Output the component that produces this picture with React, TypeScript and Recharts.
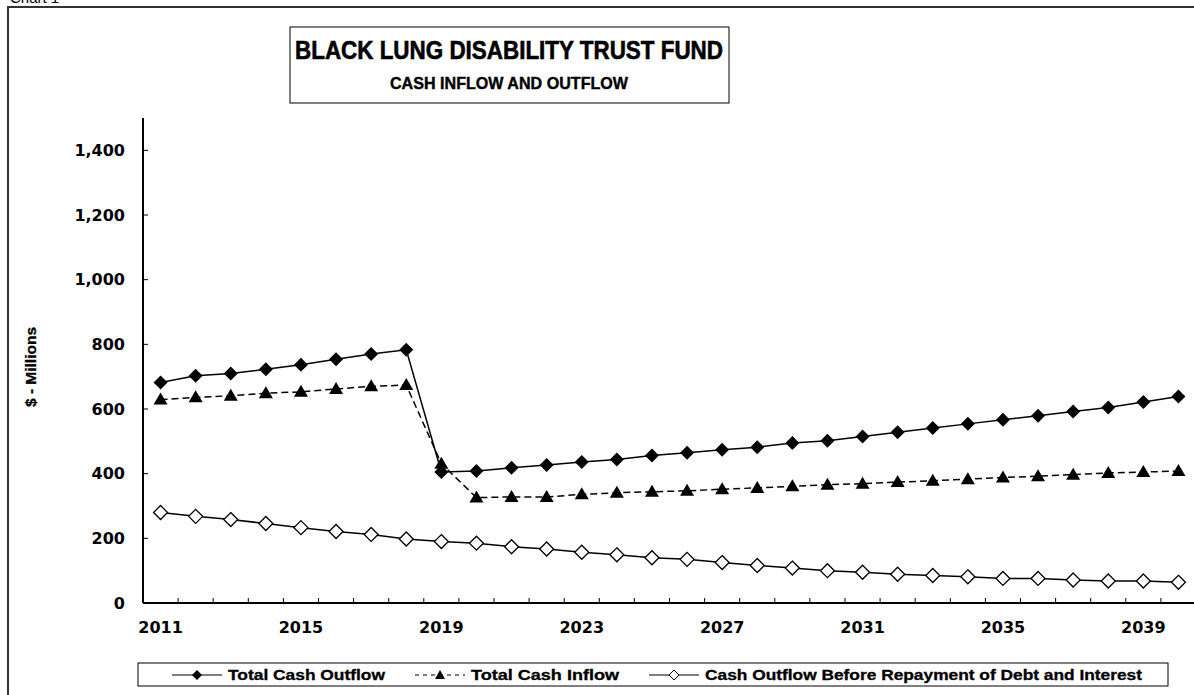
import React from "react";
import { LineChart, Line, XAxis, YAxis } from "recharts";

const years = [
  2011, 2012, 2013, 2014, 2015, 2016, 2017, 2018, 2019, 2020,
  2021, 2022, 2023, 2024, 2025, 2026, 2027, 2028, 2029, 2030,
  2031, 2032, 2033, 2034, 2035, 2036, 2037, 2038, 2039, 2040,
];

const totalCashOutflow = [
  682, 703, 710, 723, 737, 754, 770, 783, 405, 408,
  418, 427, 436, 444, 456, 465, 474, 482, 495, 502,
  515, 528, 541, 554, 567, 579, 592, 605, 622, 639,
];

const totalCashInflow = [
  629, 636, 641, 649, 653, 662, 670, 674, 431, 326,
  328, 328, 336, 341, 344, 347, 352, 356, 361, 366,
  369, 374, 378, 383, 388, 392, 397, 402, 405, 408,
];

const outflowBeforeRepayment = [
  280, 268, 258, 246, 233, 221, 212, 198, 190, 185,
  174, 167, 157, 149, 140, 135, 125, 116, 108, 100,
  95, 89, 85, 81, 76, 76, 71, 68, 68, 64,
];

const yearLabels = [2011, 2015, 2019, 2023, 2027, 2031, 2035, 2039];
const yTicks = [0, 200, 400, 600, 800, 1000, 1200, 1400];

const titleLine1 = "BLACK LUNG DISABILITY TRUST FUND";
const titleLine2 = "CASH INFLOW AND OUTFLOW";
const yAxisTitle = "$ - Millions";
const seriesNames = ["Total Cash Outflow", "Total Cash Inflow", "Cash Outflow Before Repayment of Debt and Interest"];

const data = years.map((year, i) => ({
  year,
  outflow: totalCashOutflow[i],
  inflow: totalCashInflow[i],
  before: outflowBeforeRepayment[i],
}));

// label ticks on the years, tick marks between the years
const xTicks = [...yearLabels, ...years.slice(0, -1).map((y) => y + 0.5)].sort((a, b) => a - b);

const tickFont = "'DejaVu Sans', Verdana, sans-serif";
const narrowFont = "'Liberation Sans Narrow', 'Liberation Sans', Arial, sans-serif";

const diamondPath = (cx: number, cy: number, r: number) =>
  `M${cx},${cy - r} L${cx + r},${cy} L${cx},${cy + r} L${cx - r},${cy} Z`;
const trianglePath = (cx: number, cy: number) =>
  `M${cx},${cy - 7} L${cx + 7},${cy + 5} L${cx - 7},${cy + 5} Z`;

const FilledDiamond = (props: any) => {
  const { cx, cy, index } = props;
  if (cx == null || cy == null) return <g key={index} />;
  return <path key={index} d={diamondPath(cx, cy, 7)} fill="#000" />;
};

const HollowDiamond = (props: any) => {
  const { cx, cy, index } = props;
  if (cx == null || cy == null) return <g key={index} />;
  return <path key={index} d={diamondPath(cx, cy, 7)} fill="#fff" stroke="#000" strokeWidth={1.3} />;
};

const Triangle = (props: any) => {
  const { cx, cy, index } = props;
  if (cx == null || cy == null) return <g key={index} />;
  return <path key={index} d={trianglePath(cx, cy)} fill="#000" />;
};

const XTick = (props: any) => {
  const { x, y, payload } = props;
  const v = payload.value as number;
  const axisY = y - 8;
  if (v % 1 !== 0) {
    return <line x1={x} x2={x} y1={axisY} y2={axisY - 5} stroke="#000" strokeWidth={1} />;
  }
  return (
    <text x={x} y={axisY + 30} textAnchor="middle" fontFamily={tickFont} fontWeight="bold" fontSize={16} fill="#000">
      {v}
    </text>
  );
};

const YTick = (props: any) => {
  const { x, y, payload } = props;
  const axisX = x + 18;
  return (
    <g>
      {payload.value !== 0 && <line x1={axisX} x2={axisX + 5} y1={y} y2={y} stroke="#000" strokeWidth={1} />}
      <text x={x} y={y} dy="0.36em" textAnchor="end" fontFamily={tickFont} fontWeight="bold" fontSize={16} fill="#000">
        {payload.value.toLocaleString("en-US")}
      </text>
    </g>
  );
};

function LegendBox() {
  const top = 663;
  const mid = top + 12;
  const items = [
    { x: 172, textX: 228, textW: 157, kind: "outflow" },
    { x: 415, textX: 471, textW: 148, kind: "inflow" },
    { x: 649, textX: 705, textW: 437, kind: "before" },
  ];
  return (
    <g>
      <rect x={138} y={top} width={1030} height={23} fill="#fff" stroke="#000" strokeWidth={1} />
      {items.map((it, i) => (
        <g key={it.kind}>
          <line
            x1={it.x}
            x2={it.x + 50}
            y1={mid}
            y2={mid}
            stroke="#000"
            strokeWidth={1.2}
            strokeDasharray={it.kind === "inflow" ? "4 4" : undefined}
          />
          {it.kind === "outflow" && <path d={diamondPath(it.x + 25, mid, 5)} fill="#000" />}
          {it.kind === "inflow" && <path d={`M${it.x + 25},${mid - 5} L${it.x + 30},${mid + 4} L${it.x + 20},${mid + 4} Z`} fill="#000" />}
          {it.kind === "before" && <path d={diamondPath(it.x + 25, mid, 5)} fill="#fff" stroke="#000" strokeWidth={1} />}
          <text
            x={it.textX}
            y={mid + 5}
            fontFamily={narrowFont}
            fontWeight="bold"
            fontSize={14}
            textLength={it.textW}
            lengthAdjust="spacingAndGlyphs"
            fill="#000"
            stroke="#000"
            strokeWidth={0.3}
          >
            {seriesNames[i]}
          </text>
        </g>
      ))}
    </g>
  );
}

export default function App() {
  return (
    <div
      style={{
        position: "absolute",
        left: 0,
        top: 0,
        width: 1194,
        height: 695,
        overflow: "hidden",
        background: "#fff",
      }}
    >
      <div style={{ position: "absolute", left: 0, top: 0 }}>
        <LineChart
          width={1230}
          height={700}
          data={data}
          margin={{ top: 118, right: 34, bottom: 67, left: 43 }}
        >
          <XAxis
            dataKey="year"
            type="number"
            domain={[2010.5, 2040.5]}
            ticks={xTicks}
            interval={0}
            tickSize={0}
            tickMargin={8}
            tickLine={false}
            axisLine={{ stroke: "#000", strokeWidth: 2 }}
            tick={<XTick />}
            height={30}
          />
          <YAxis
            type="number"
            domain={[0, 1500]}
            ticks={yTicks}
            interval={0}
            tickSize={0}
            tickMargin={18}
            tickLine={false}
            axisLine={{ stroke: "#000", strokeWidth: 2 }}
            tick={<YTick />}
            width={100}
          />
          <Line
            dataKey="before"
            stroke="#000"
            strokeWidth={1.5}
            dot={<HollowDiamond />}
            activeDot={false}
            isAnimationActive={false}
          />
          <Line
            dataKey="inflow"
            stroke="#000"
            strokeWidth={1.5}
            strokeDasharray="7 4"
            dot={<Triangle />}
            activeDot={false}
            isAnimationActive={false}
          />
          <Line
            dataKey="outflow"
            stroke="#000"
            strokeWidth={1.5}
            dot={<FilledDiamond />}
            activeDot={false}
            isAnimationActive={false}
          />
        </LineChart>
      </div>
      <svg
        width={1194}
        height={695}
        style={{ position: "absolute", left: 0, top: 0, pointerEvents: "none" }}
      >
        <text x={10} y={3} fontFamily="'Liberation Sans', Arial, sans-serif" fontSize={15} fill="#000">
          Chart 1
        </text>
        <rect x={8} y={7} width={1200} height={700} fill="none" stroke="#333" strokeWidth={2} />
        <rect x={290} y={27} width={439} height={76} fill="#fff" stroke="#000" strokeWidth={1} />
        <text
          x={509}
          y={59}
          textAnchor="middle"
          fontFamily={narrowFont}
          fontWeight="bold"
          fontSize={25}
          textLength={428}
          lengthAdjust="spacingAndGlyphs"
          fill="#000"
          stroke="#000"
          strokeWidth={0.6}
        >
          {titleLine1}
        </text>
        <text
          x={509}
          y={89}
          textAnchor="middle"
          fontFamily={narrowFont}
          fontWeight="bold"
          fontSize={17}
          textLength={238}
          lengthAdjust="spacingAndGlyphs"
          fill="#000"
          stroke="#000"
          strokeWidth={0.4}
        >
          {titleLine2}
        </text>
        <text
          x={0}
          y={0}
          transform="translate(36,367) rotate(-90)"
          textAnchor="middle"
          fontFamily={narrowFont}
          fontWeight="bold"
          fontSize={14}
          textLength={80}
          lengthAdjust="spacingAndGlyphs"
          fill="#000"
          stroke="#000"
          strokeWidth={0.3}
        >
          {yAxisTitle}
        </text>
        <LegendBox />
      </svg>
    </div>
  );
}
